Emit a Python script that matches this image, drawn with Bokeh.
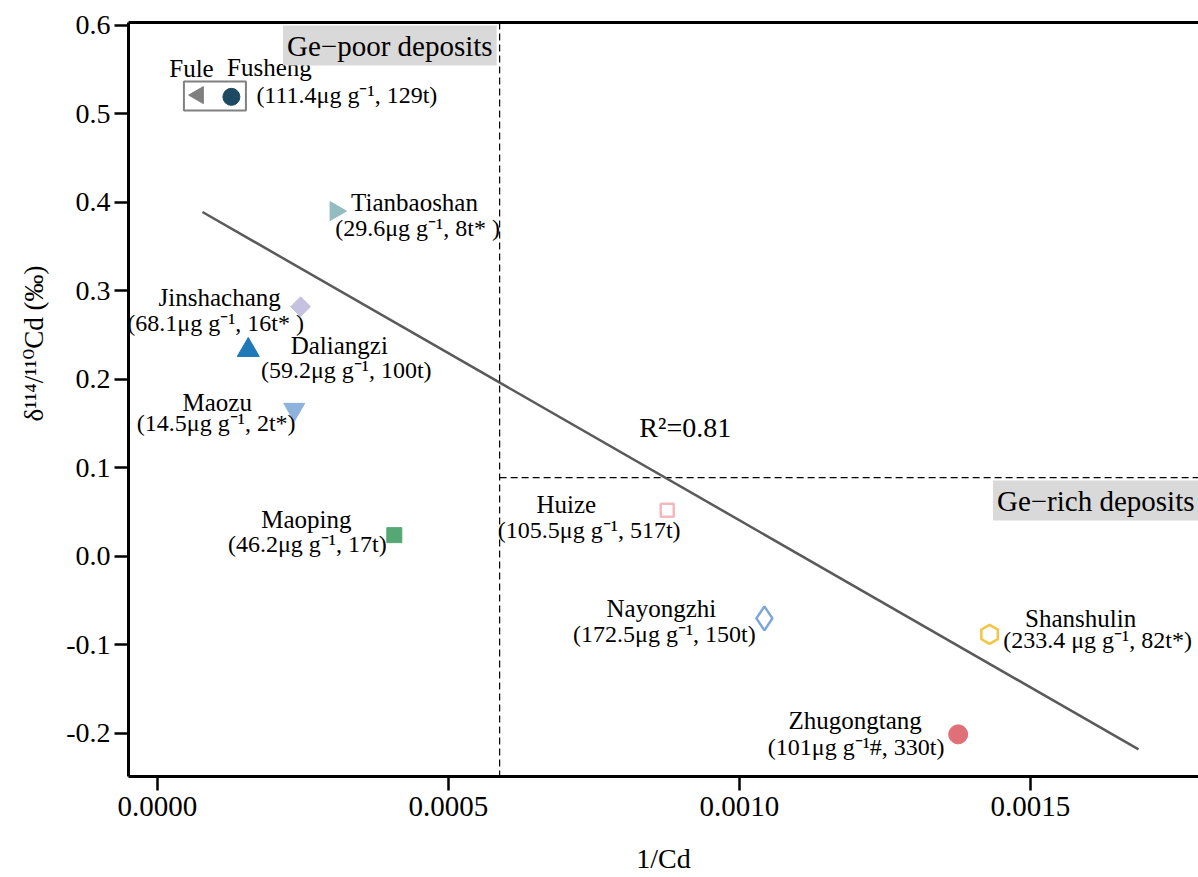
import math
from bokeh.plotting import figure
from bokeh.models import (ColumnDataSource, Range1d, LinearAxis, FixedTicker,
                          CustomJSTickFormatter, Span, Label, Title)
from bokeh.core.properties import value
from bokeh.embed import file_html
from bokeh.resources import INLINE

# ---------------- data ----------------
names = ["Fule", "Fusheng", "Tianbaoshan", "Jinshachang", "Daliangzi", "Maozu",
         "Maoping", "Huize", "Nayongzhi", "Shanshulin", "Zhugongtang"]
inv_cd = [0.0000704, 0.000127, 0.000306, 0.000246, 0.000156, 0.000235,
          0.000407, 0.000876, 0.001043, 0.001430, 0.001376]
delta_cd = [0.521, 0.519, 0.390, 0.282, 0.233, 0.166,
            0.024, 0.052, -0.070, -0.088, -0.201]
grades = ["", "(111.4μg g⁻¹, 129t)", "(29.6μg g⁻¹, 8t* )", "(68.1μg g⁻¹, 16t* )",
          "(59.2μg g⁻¹, 100t)", "(14.5μg g⁻¹, 2t*)", "(46.2μg g⁻¹, 17t)",
          "(105.5μg g⁻¹, 517t)", "(172.5μg g⁻¹, 150t)", "(233.4 μg g⁻¹, 82t*)",
          "(101μg g⁻¹#, 330t)"]
fit_x = [0.0000773, 0.001686]
fit_y = [0.389, -0.218]
r2_text = "R²=0.81"
r2_pos = (0.000907, 0.146)
divide_x = 0.000588
divide_y = 0.089
x_ticks = [0.0, 0.0005, 0.0010, 0.0015]
y_ticks = [-0.2, -0.1, 0.0, 0.1, 0.2, 0.3, 0.4, 0.5, 0.6]
x_title = "1/Cd"
y_title = "δ¹¹⁴/¹¹⁰Cd (‰)"
poor_text = "Ge−poor deposits"
rich_text = "Ge−rich deposits"

# ---------------- styles ----------------
FONT = "Liberation Serif"
markers = ["triangle", "circle", "triangle", "square", "triangle", "inverted_triangle",
           "square", "square", "diamond", "hex", "circle"]
angles = [math.pi / 2, 0, -math.pi / 2, math.pi / 4, 0, 0, 0, 0, 0, math.pi / 6, 0]
sizes = [17, 17, 19, 14, 22, 21, 15, 13, 24, 19, 19]
fills = ["#7f7f7f", "#1d4a63", "#93bcc0", "#c5c1e0", "#1f78b8", "#8db2dc",
         "#55a774", "white", "white", "white", "#e07078"]
lines = ["#7f7f7f", "#1d4a63", "#93bcc0", "#c5c1e0", "#1f78b8", "#8db2dc",
         "#55a774", "#f2b8be", "#7aa6da", "#f4c542", "#e07078"]
lwidths = [1, 1, 1, 1, 1, 1, 1, 2.5, 2.5, 2.5, 1]
# label offsets in screen pixels (positive y = down)
name_dx = [-7, 38, 79, -81, 91, -77, -88, -101, -103, 91, -103]
name_dy = [-27, -29, -9, -9, -5, -7, -16, -6, -10, -16, -14]
grade_dx = [0, 25, 82, -85, 98, -78, -87, -78, -100, 108, -102]
grade_dy = [0, -2, 17, 16, 20, 14, 9, 20, 16, 6, 13]
grade_align = ["center", "left", "center", "center", "center", "center",
               "center", "center", "center", "center", "center"]

src = ColumnDataSource(dict(x=inv_cd, y=delta_cd, name=names, grade=grades,
                            marker=markers, angle=angles, size=sizes, fill=fills,
                            line=lines, lw=lwidths, nx=name_dx, ny=name_dy,
                            gx=grade_dx, gy=grade_dy, galign=grade_align))

xr = Range1d(-0.0000498, 0.001789)
yr = Range1d(-0.2486, 0.603)

p = figure(width=1198, height=877, x_range=xr, y_range=yr,
           x_axis_location=None, y_axis_location=None,
           output_backend="svg", toolbar_location=None,
           min_border_left=128, min_border_right=0, min_border_top=22,
           min_border_bottom=101, outline_line_color=None,
           background_fill_color="white", border_fill_color="white")
p.xgrid.grid_line_color = None
p.ygrid.grid_line_color = None

# y axis
yax = LinearAxis(ticker=FixedTicker(ticks=y_ticks),
                 formatter=CustomJSTickFormatter(code="return tick.toFixed(1)"),
                 axis_line_width=3, axis_line_color="black",
                 major_tick_out=14, major_tick_in=0, major_tick_line_width=2.5,
                 minor_tick_line_color=None, minor_tick_out=0,
                 major_label_text_font=FONT, major_label_text_font_size="28px",
                 major_label_text_color="black", major_label_standoff=4)
p.add_layout(yax, "left")

# y axis title (vertical, placed higher like the original)
p.add_layout(Title(text=y_title, align="right", offset=243, standoff=29,
                   text_font="Liberation Serif, DejaVu Serif", text_font_size="27px",
                   text_font_style="normal", text_color="black"), "left")

# top border
top = LinearAxis(ticker=FixedTicker(ticks=[]), axis_line_width=3,
                 major_tick_out=0, major_tick_in=0, minor_tick_out=0, minor_tick_in=0,
                 major_label_text_font_size="0px", major_label_standoff=0)
p.add_layout(top, "above")

# bottom border then tick axis
bot = LinearAxis(ticker=FixedTicker(ticks=[]), axis_line_width=3,
                 major_tick_out=2, major_tick_in=0, minor_tick_out=0, minor_tick_in=0,
                 major_tick_line_color=None,
                 major_label_text_font_size="0px", major_label_standoff=0)
p.add_layout(bot, "below")
xax = LinearAxis(ticker=FixedTicker(ticks=x_ticks),
                 formatter=CustomJSTickFormatter(code="return tick.toFixed(4)"),
                 axis_line_color=None, major_tick_out=14, major_tick_in=0,
                 major_tick_line_width=2.5, minor_tick_line_color=None, minor_tick_out=0,
                 major_label_text_font=FONT, major_label_text_font_size="29px",
                 major_label_text_color="black", major_label_standoff=6,
                 axis_label=x_title, axis_label_text_font=FONT,
                 axis_label_text_font_size="28px", axis_label_text_font_style="normal",
                 axis_label_text_color="black", axis_label_standoff=24)
p.add_layout(xax, "below")

# dividing lines
p.add_layout(Span(location=divide_x, dimension="height", line_color="black",
                  line_width=1.2, line_dash="7 4"))
p.segment(x0=[divide_x], y0=[divide_y], x1=[xr.end], y1=[divide_y],
          line_color="black", line_width=1.2, line_dash="7 4")

# regression line
p.line(fit_x, fit_y, line_color="#5a5a5a", line_width=2.5)

# box around Fule / Fusheng
p.rect(x=[(inv_cd[0] + inv_cd[1]) / 2], y=[(delta_cd[0] + delta_cd[1]) / 2],
       width=62, height=29, width_units="screen", height_units="screen",
       fill_color=None, line_color="#808080", line_width=2)

# points
p.scatter(x="x", y="y", marker="marker", angle="angle", size="size",
          fill_color="fill", line_color="line", line_width="lw", source=src)

# labels
p.text(x="x", y="y", text="name", x_offset="nx", y_offset="ny", source=src,
       text_font=value(FONT), text_font_size="25px", text_align="center",
       text_baseline="middle", text_color="black")
p.text(x="x", y="y", text="grade", x_offset="gx", y_offset="gy", source=src,
       text_font=value(FONT), text_font_size="24px", text_align="galign",
       text_baseline="middle", text_color="black")

p.add_layout(Label(x=r2_pos[0], y=r2_pos[1], text=r2_text, text_font=FONT,
                   text_font_size="28px", text_align="center", text_baseline="middle",
                   text_color="black"))

p.add_layout(Label(x=divide_x, y=0.577, x_offset=-3, text=poor_text, text_font=FONT,
                   text_font_size="29px", text_align="right", text_baseline="middle",
                   text_color="black", background_fill_color="#d9d9d9", padding=4))
p.add_layout(Label(x=xr.end, y=0.063, x_offset=0, text=rich_text, text_font=FONT,
                   text_font_size="29px", text_align="right", text_baseline="middle",
                   text_color="black", background_fill_color="#d9d9d9", padding=4))

open("out.html", "w").write(file_html(p, INLINE))
